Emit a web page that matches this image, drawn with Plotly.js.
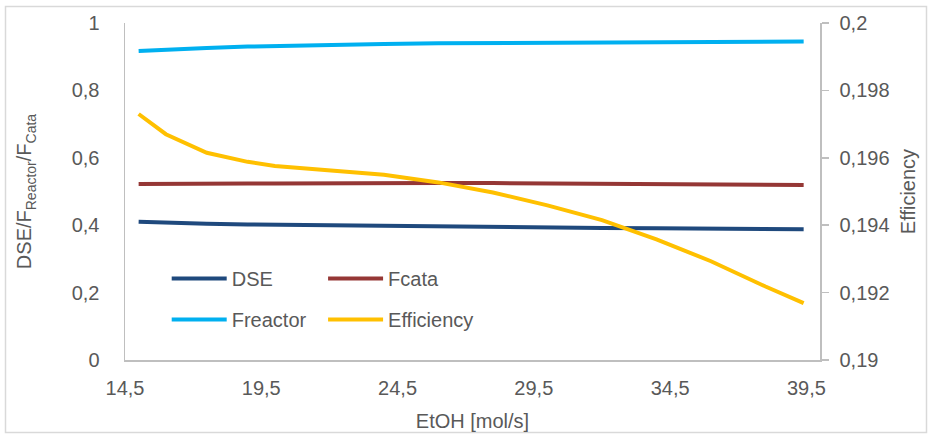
<!DOCTYPE html>
<html>
<head>
<meta charset="utf-8">
<script src="https://cdn.plot.ly/plotly-3.0.1.min.js"></script>
<style>
  html, body { margin: 0; padding: 0; background: #ffffff; }
  #chart { width: 928px; height: 434px; }
</style>
</head>
<body>
<div id="chart"></div>
<script>
// ---- data ----
var etoh = [15, 16, 17.5, 19, 20, 22, 24, 26, 28, 30, 32, 34, 36, 38, 39.4];
var dse = [0.410, 0.407, 0.404, 0.402, 0.401, 0.399, 0.397, 0.395, 0.394, 0.393, 0.392, 0.391, 0.390, 0.389, 0.388];
var fcata = [0.522, 0.523, 0.523, 0.524, 0.524, 0.525, 0.525, 0.525, 0.525, 0.524, 0.523, 0.522, 0.521, 0.520, 0.519];
var freactor = [0.917, 0.921, 0.926, 0.930, 0.932, 0.935, 0.938, 0.940, 0.941, 0.942, 0.943, 0.943, 0.944, 0.944, 0.945];
var efficiency = [0.19730, 0.19670, 0.19615, 0.19588, 0.19576, 0.19563, 0.19550, 0.19527, 0.19497, 0.19459, 0.19415, 0.19358, 0.19293, 0.19218, 0.19169];

var xTickVals = [14.5, 19.5, 24.5, 29.5, 34.5, 39.5];
var xTickText = ["14,5", "19,5", "24,5", "29,5", "34,5", "39,5"];
var yTickVals = [0, 0.2, 0.4, 0.6, 0.8, 1];
var yTickText = ["0", "0,2", "0,4", "0,6", "0,8", "1"];
var y2TickVals = [0.19, 0.192, 0.194, 0.196, 0.198, 0.2];
var y2TickText = ["0,19", "0,192", "0,194", "0,196", "0,198", "0,2"];

var FONT = "'Liberation Sans Narrow', 'Arial Narrow', 'Liberation Sans', Arial, sans-serif";
var FS = 20;
var TXT = "#595959";
var AX = "#bfbfbf";

var traces = [
  {x: etoh, y: dse, name: "DSE", mode: "lines", line: {color: "#1f497d", width: 4}, legend: "legend", legendgroup: "a"},
  {x: etoh, y: freactor, name: "Freactor", mode: "lines", line: {color: "#00b0f0", width: 4}, legend: "legend", legendgroup: "b"},
  {x: etoh, y: fcata, name: "Fcata", mode: "lines", line: {color: "#953735", width: 4}, legend: "legend2", legendgroup: "c"},
  {x: etoh, y: efficiency, name: "Efficiency", mode: "lines", line: {color: "#ffc000", width: 4}, yaxis: "y2", legend: "legend2", legendgroup: "d"}
];

var legendBase = {
  font: {family: FONT, size: FS, color: TXT},
  bgcolor: "rgba(0,0,0,0)",
  orientation: "v",
  tracegroupgap: 12,
  itemwidth: 55,
  yanchor: "top",
  xanchor: "left"
};

var layout = {
  width: 928,
  height: 434,
  margin: {l: 125, r: 108, t: 23, b: 74},
  paper_bgcolor: "#ffffff",
  plot_bgcolor: "#ffffff",
  font: {family: FONT, size: FS, color: TXT},
  separators: ", ",
  showlegend: true,
  hovermode: false,
  xaxis: {
    range: [14.5, 40],
    tickmode: "array", tickvals: xTickVals, ticktext: xTickText,
    showgrid: false, zeroline: false,
    showline: true, linecolor: AX, linewidth: 1.5,
    ticks: "", ticklabelstandoff: 9,
    tickfont: {family: FONT, size: FS, color: TXT},
    title: {text: "EtOH [mol/s]", font: {family: FONT, size: FS, color: TXT}, standoff: 16},
    automargin: false
  },
  yaxis: {
    range: [0, 1],
    tickmode: "array", tickvals: yTickVals, ticktext: yTickText,
    showgrid: false, zeroline: false,
    showline: true, linecolor: AX, linewidth: 1.5,
    ticks: "", ticklabelstandoff: 20,
    tickfont: {family: FONT, size: FS, color: TXT},
    title: {text: "DSE/F<sub>Reactor</sub>/F<sub>Cata</sub>", font: {family: FONT, size: FS, color: TXT}, standoff: 34},
    automargin: false
  },
  yaxis2: {
    overlaying: "y", side: "right",
    range: [0.19, 0.2],
    tickmode: "array", tickvals: y2TickVals, ticktext: y2TickText,
    showgrid: false, zeroline: false,
    showline: true, linecolor: AX, linewidth: 1.5,
    ticks: "outside", ticklen: 7, tickwidth: 1.5, tickcolor: AX, ticklabelstandoff: 7,
    tickfont: {family: FONT, size: FS, color: TXT},
    title: {text: "Efficiency", font: {family: FONT, size: FS, color: TXT}, standoff: 12},
    automargin: false
  },
  legend: Object.assign({}, legendBase, {x: 0.06, y: 0.30}),
  legend2: Object.assign({}, legendBase, {x: 0.285, y: 0.30}),
  shapes: [
    {type: "rect", xref: "paper", yref: "paper",
     x0: (5.5 - 125) / 695, x1: (926.5 - 125) / 695,
     y0: (360 - 432.5) / 337, y1: (360 - 6.5) / 337,
     line: {color: "#d9d9d9", width: 1.5}, fillcolor: "rgba(0,0,0,0)", layer: "below"}
  ]
};

Plotly.newPlot("chart", traces, layout, {displayModeBar: false, staticPlot: true});
</script>
</body>
</html>
